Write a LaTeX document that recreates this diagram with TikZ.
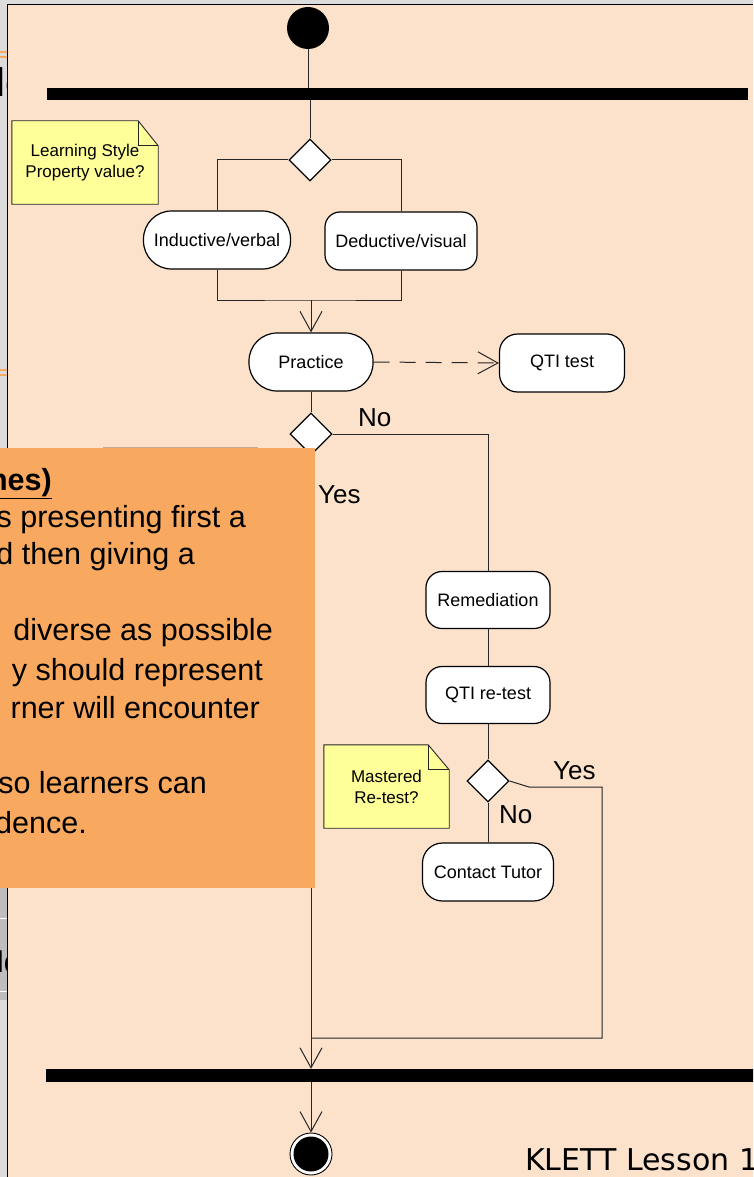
\documentclass[tikz,border=0pt]{standalone}
\usepackage{fontspec}
\setmainfont{Liberation Sans}
\newfontfamily\klettfont{DejaVu Sans}
\usetikzlibrary{shapes.geometric,arrows.meta,backgrounds}
\definecolor{peach}{HTML}{FCE2CB}
\definecolor{orangebox}{HTML}{F9A95F}
\definecolor{notey}{HTML}{FFFF99}
\definecolor{stripgray}{HTML}{DCDCDC}
\definecolor{stripdark}{HTML}{BDBDBD}
\definecolor{linec}{HTML}{262626}
\definecolor{boxedge}{HTML}{C8A890}
\begin{document}
\begin{tikzpicture}[x=1pt,y=-1pt,
  act/.style={draw=black, line width=1.2pt, fill=white, minimum height=58pt, inner sep=0pt, font=\fontsize{18}{21}\selectfont, align=center},
  stadium/.style={act, rounded corners=28pt},
  rbox/.style={act, rounded corners=16pt},
  dec/.style={diamond, draw=black, line width=1.2pt, fill=white, minimum width=42pt, minimum height=42pt, inner sep=0pt},
  bar/.style={fill=black, inner sep=0pt},
  flow/.style={draw=linec, line width=1pt},
  arr/.style={flow, -{Straight Barb[length=20pt,width=22pt]}},
  notetext/.style={inner sep=0pt, font=\fontsize{17}{21}\selectfont, align=center},
  lbl/.style={inner sep=0pt, anchor=base west, font=\fontsize{26}{30}\selectfont},
  boxtext/.style={inner sep=0pt, anchor=base east, font=\fontsize{30.5}{36}\selectfont},
  frag/.style={inner sep=0pt, anchor=base west, font=\fontsize{40}{40}\selectfont},
]
\useasboundingbox (0,0) rectangle (753,1177);
% background
\begin{scope}[on background layer]
  \fill[stripgray] (0,0) rectangle (753,1177);
  \fill[stripdark] (0,888) rectangle (7,1000);
  \fill[peach] (7,4) rectangle (753,1177);
  \draw[black, line width=0.8pt] (7,1177) -- (7,4) -- (753,4);
  \draw[orangebox, line width=1.5pt] (0,52) -- (6.5,52) (0,57) -- (6.5,57);
  \draw[orangebox, line width=1.5pt] (0,370) -- (6.5,370) (0,375) -- (6.5,375);
  \draw[white, line width=1pt] (0,918) -- (6.5,918) (0,991) -- (6.5,991);
\end{scope}
\begin{scope}
  \clip (0,4) rectangle (6.6,1177);
  \node[frag] (frag1) at (-4,97) {ld};
  \node[frag] (frag2) at (-20,257) {n};
  \node[frag, font=\fontsize{30}{30}\selectfont] (frag3) at (-3,972) {ld};
\end{scope}

\begin{scope}
\clip (0,0) rectangle (753,1177);
% start and fork
\node[circle, fill=black, minimum size=42pt, inner sep=0pt] (start) at (308,28) {};
\node[bar, minimum width=701pt, minimum height=12pt] (bar1) at (397.5,94) {};
\node[dec] (d1) at (310,160) {};
\draw[flow] (start.south) -- (start.south |- bar1.north);
\draw[flow] (d1.north) -- (d1.north |- bar1.south);

% branches
\node[stadium, minimum width=147pt] (ind) at (217,240) {Inductive/verbal};
\node[rbox, minimum width=152pt, rounded corners=15pt] (ded) at (401,241) {Deductive/visual};
\draw[flow] (d1.west) -| (ind.north);
\draw[flow] (d1.east) -| (ded.north);
\coordinate (m1) at (311,300);
\draw[flow] (ind.south) |- (m1) -| (ded.south);

% practice
\node[stadium, minimum width=124pt] (prac) at (311,362) {Practice};
\node[rbox, minimum width=125pt, rounded corners=18pt] (qti) at (562,363) {QTI test};
\draw[arr] (m1) -- (prac.north);
\draw[arr, dash pattern=on 16pt off 10pt] (prac.east) -- (qti.west);

\node[dec] (d2) at (311,434) {};
\draw[flow] (prac.south) -- (d2.north);

% remediation
\node[rbox, minimum width=124pt, minimum height=57pt] (rem) at (488,600) {Remediation};
\node[rbox, minimum width=124pt, minimum height=57pt] (retest) at (488,695) {QTI re-test};
\node[dec] (d3) at (488,781) {};
\node[rbox, minimum width=131pt, rounded corners=20pt] (tutor) at (488,872) {Contact Tutor};
\draw[flow] (d2.east) -| (rem.north);
\draw[flow] (rem.south) -- (retest.north);
\draw[flow] (retest.south) -- (d3.north);
\draw[flow] (d3.south) -- (tutor.north);

% join and end
\node[bar, minimum width=714pt, minimum height=13pt] (bar2) at (403,1075.5) {};
\coordinate (y3a) at (529,787);
\coordinate (y3b) at (602,1038);
\coordinate (j2) at (311,1038);
\draw[flow] (d3.east) -- (y3a) -| (y3b) -- (j2);
\draw[arr] (d2.south) -- (d2.south |- bar2.north);
\node[circle, draw=black, line width=0.9pt, fill=white, minimum size=42pt, inner sep=0pt] (endo) at (311,1154) {};
\node[circle, fill=black, minimum size=35pt, inner sep=0pt] (endi) at (311,1154) {};
\draw[arr] (bar2.south -| endo) -- (endo.north);

% labels
\node[lbl] (no1) at (358,426) {No};
\node[lbl] (yes1) at (318,503) {Yes};
\node[lbl] (yes2) at (553,779) {Yes};
\node[lbl] (no2) at (499,823) {No};

% notes
\node[notetext, minimum width=146pt, minimum height=83pt] (note1) at (85,162.5) {Learning Style\\Property value?};
\node[notetext, minimum width=125pt, minimum height=83pt] (note2) at (386.5,786.5) {Mastered\\Re-test?};
\begin{scope}[on background layer]
  \draw[fill=notey, draw=linec, line width=0.9pt] (note1.south west) -- (note1.north west) -- ([xshift=-20pt]note1.north east) -- ([yshift=-25pt]note1.north east) -- (note1.south east) -- cycle;
  \draw[draw=linec, line width=0.9pt] ([xshift=-20pt]note1.north east) -- ([xshift=-20pt,yshift=-25pt]note1.north east) -- ([yshift=-25pt]note1.north east);
  \draw[fill=notey, draw=linec, line width=0.9pt] (note2.south west) -- (note2.north west) -- ([xshift=-21pt]note2.north east) -- ([yshift=-25pt]note2.north east) -- (note2.south east) -- cycle;
  \draw[draw=linec, line width=0.9pt] ([xshift=-21pt]note2.north east) -- ([xshift=-21pt,yshift=-25pt]note2.north east) -- ([yshift=-25pt]note2.north east);
\end{scope}

% orange overlay box
\draw[boxedge, line width=1pt] (103,447) -- (258,447);
\node[fill=orangebox, minimum width=315pt, minimum height=440pt, inner sep=0pt] (obox) at (157.5,668) {};
\begin{scope}
  \clip (obox.south west) rectangle (obox.north east);
  \node[boxtext] (t1) at (52,490) {\textbf{\underline{nes)}}};
  \node[boxtext] (t2) at (246,527) {s presenting first a};
  \node[boxtext] (t3) at (195,564) {d then giving a};
  \node[boxtext] (t4) at (273,640) {diverse as possible};
  \node[boxtext] (t5) at (263,680) {y should represent};
  \node[boxtext] (t6) at (260,718) {rner will encounter};
  \node[boxtext] (t7) at (207,793) {so learners can};
  \node[boxtext] (t8) at (87,833) {dence.};
\end{scope}

% footer
\node[inner sep=0pt, anchor=base west, font=\klettfont\fontsize{30}{30}\selectfont] (klett) at (525,1170) {KLETT Lesson 1};
\end{scope}
\end{tikzpicture}
\end{document}
